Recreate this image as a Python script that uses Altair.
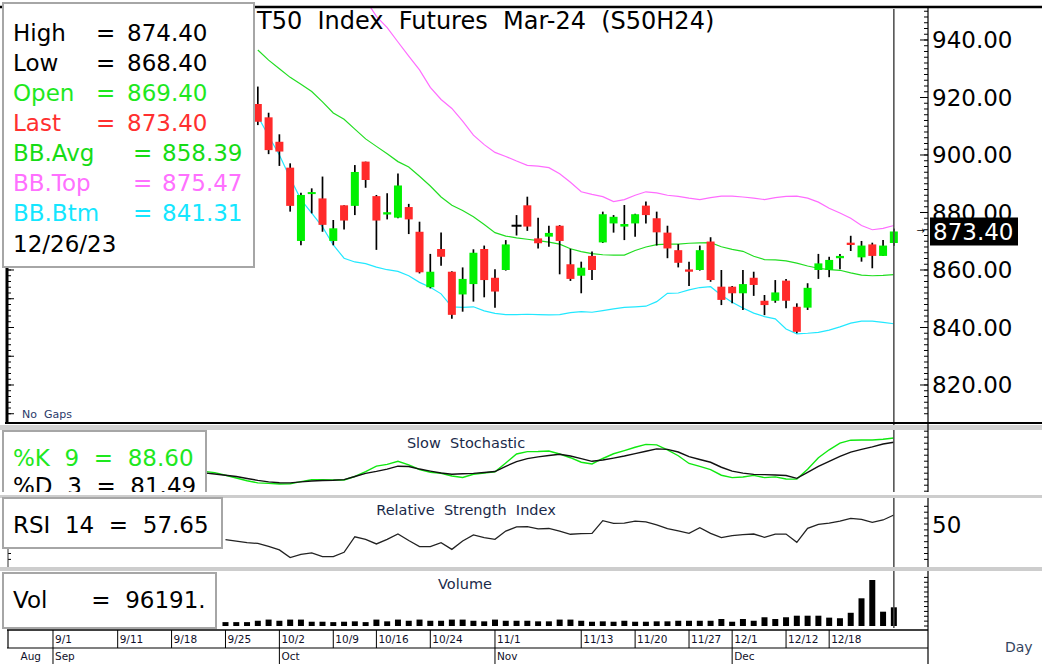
import altair as alt
import pandas as pd

FONT = "DejaVu Sans"
NB = "\u00a0"

# ---------------- data (bar index 0 = 9/1/2023, trading days) ----------------
bar_idx = list(range(19, 79))
opens = [917.7, 913.1, 904.6, 895.6, 870.1, 886.4, 884.9, 870.1, 882.5, 882.3,
         897.7, 885.7, 879.3, 878.2, 881.9, 873.3, 854.0, 867.3, 859.4, 851.5,
         855.1, 867.3, 857.3, 860.0, 875.4, 882.5, 871.0, 871.6, 875.4, 862.0,
         858.0, 864.9, 869.6, 876.2, 875.1, 876.2, 882.4, 878.0, 873.0, 866.9,
         860.2, 860.0, 869.9, 854.2, 854.2, 851.9, 857.3, 849.3, 849.3, 856.3,
         847.2, 846.9, 860.0, 860.0, 864.1, 869.5, 864.4, 868.9, 864.9, 869.4]
highs = [923.8, 914.7, 907.2, 897.1, 886.9, 888.4, 892.5, 877.4, 882.5, 896.5,
         897.7, 886.1, 886.7, 893.6, 883.0, 876.8, 865.6, 873.0, 859.6, 860.9,
         867.2, 868.5, 860.3, 870.4, 879.1, 885.5, 878.2, 875.4, 875.6, 867.4,
         862.9, 866.4, 880.3, 879.1, 882.6, 879.6, 883.8, 880.3, 875.4, 869.0,
         862.9, 868.5, 871.4, 860.0, 854.4, 860.0, 859.4, 851.3, 856.5, 856.9,
         848.4, 855.4, 865.6, 864.6, 865.6, 871.9, 870.1, 869.5, 870.4, 874.4]
lows = [910.4, 900.3, 896.2, 880.3, 868.6, 879.7, 873.3, 868.6, 874.1, 879.1,
        888.6, 867.0, 877.6, 878.0, 872.5, 858.8, 853.6, 861.5, 843.0, 845.5,
        849.0, 850.5, 846.9, 859.8, 872.0, 873.6, 867.5, 868.1, 858.5, 856.2,
        851.9, 856.5, 869.4, 873.0, 870.4, 871.6, 876.2, 868.5, 864.1, 860.9,
        854.4, 859.8, 855.9, 847.8, 848.4, 846.1, 851.0, 844.3, 848.6, 846.7,
        838.0, 846.1, 856.9, 857.5, 860.3, 866.6, 862.9, 860.6, 864.9, 868.4]
closes = [911.6, 901.7, 901.2, 882.3, 886.1, 887.1, 875.7, 874.5, 877.2, 894.1,
          891.3, 877.2, 880.1, 889.4, 877.6, 859.2, 859.4, 864.6, 844.4, 856.9,
          866.0, 856.5, 852.5, 868.9, 875.4, 875.1, 869.3, 872.9, 870.1, 856.9,
          860.8, 860.0, 879.4, 878.5, 876.0, 879.4, 879.1, 873.1, 867.5, 862.5,
          859.4, 866.9, 856.5, 849.6, 851.9, 855.1, 854.8, 847.8, 852.2, 849.3,
          838.5, 853.8, 862.3, 863.5, 864.9, 868.7, 868.5, 864.9, 868.5, 873.4]

bb_top_idx = list(range(29, 79))
bb_top = [954.0, 948.2, 944.3, 939.3, 934.4, 929.6, 923.5, 919.3, 916.2, 911.8,
          906.9, 903.6, 900.9, 899.5, 897.9, 896.4, 896.1, 895.6, 893.5, 890.5,
          887.2, 886.3, 885.5, 883.8, 884.5, 886.0, 887.2, 886.8, 886.0, 885.6,
          885.0, 884.5, 885.2, 885.7, 885.7, 885.4, 885.0, 884.5, 885.2, 885.6,
          885.7, 885.0, 883.6, 881.5, 879.8, 878.0, 875.5, 874.0, 874.5, 875.47]
bb_idx = list(range(19, 79))
bb_avg = [936.5, 933.0, 930.0, 927.0, 924.6, 922.1, 918.5, 914.6, 912.4, 909.0,
          905.6, 903.0, 900.4, 897.7, 895.8, 892.6, 889.2, 885.4, 882.5, 880.7,
          878.5, 875.8, 873.0, 871.8, 871.2, 870.7, 870.2, 869.7, 869.0, 867.4,
          866.4, 865.7, 865.3, 865.2, 865.2, 866.8, 868.0, 868.8, 869.0, 869.0,
          869.3, 869.4, 869.5, 868.1, 867.2, 866.5, 864.8, 863.6, 863.5, 863.2,
          862.4, 861.4, 860.6, 860.1, 859.9, 859.0, 858.2, 858.0, 858.1, 858.39]
bb_btm = [913.5, 906.6, 900.0, 892.0, 884.5, 879.8, 875.0, 868.7, 864.1, 862.8,
          862.2, 861.0, 860.1, 859.5, 858.0, 855.7, 854.0, 851.7, 847.2, 847.0,
          847.2, 845.8, 844.9, 844.5, 844.5, 844.6, 844.5, 844.4, 844.5, 845.2,
          845.5, 845.3, 845.9, 846.5, 847.0, 847.2, 847.4, 849.0, 851.9, 852.0,
          853.1, 853.9, 854.2, 851.2, 848.8, 846.8, 845.0, 843.8, 843.0, 839.5,
          837.8, 838.0, 838.3, 839.1, 840.2, 841.5, 842.2, 842.2, 841.8, 841.31]

stoch_idx = list(range(14, 79))
stoch_k = [33, 31, 26.5, 22, 17.5, 13.8, 13.1, 12, 12.5, 15.9,
           19, 19.2, 18.7, 18.7, 24.5, 32.6, 41.8, 44.7, 49.8, 43.8,
           36.2, 31.6, 30, 25.4, 22.9, 28.3, 30.3, 32.4, 47, 62,
           65.9, 66.1, 67, 62, 55.8, 48.3, 45.4, 54.5, 62.4, 67.7,
           73.2, 78, 77.2, 68.8, 59.1, 46.2, 41.3, 35.9, 26.6, 22.6,
           23.6, 26.3, 22.6, 23.8, 20.3, 20.2, 36.5, 55.7, 69, 80,
           85, 85.3, 85.3, 86.7, 88.6]
stoch_d = [30.5, 28.7, 26.6, 24.4, 21.2, 18.1, 15.5, 14.1, 13.8, 15.5,
           17.1, 17.9, 18.3, 19.3, 24.5, 29.8, 33, 36.8, 41.7, 41.1,
           36.9, 33.5, 30.3, 28.3, 29, 29.7, 31.1, 32.8, 41.5, 49.2,
           54.2, 57.3, 59.5, 61.6, 58.7, 54.4, 49.8, 51.9, 55.1, 58.6,
           62.7, 66.6, 70.6, 69.7, 65.3, 57.5, 52.8, 48.2, 39.9, 33.4,
           30.1, 28, 27.6, 27.1, 26.1, 21.4, 31.2, 41.5, 49.9, 58.1,
           65.2, 69.7, 73.8, 78.6, 81.49]

rsi_idx = list(range(16, 79))
rsi_vals = [36.8, 35.5, 34.2, 33.5, 31, 28, 21.5, 24.3, 25.5, 22.3,
            22.3, 26, 39.2, 37, 33.1, 37, 41.5, 36, 30.8, 30.8,
            34.2, 28.5, 35.6, 40.7, 38.5, 37, 44, 47.5, 47.7, 45.8,
            46.2, 44, 41.3, 41.8, 42.1, 52.8, 50.6, 50.8, 52.5, 51.8,
            49.2, 46, 44.1, 42.1, 46.9, 42.1, 38.4, 40.1, 41, 41.5,
            38.7, 41.5, 41.5, 34.5, 46.3, 49.7, 50.8, 52.5, 54.8, 54,
            51.4, 53.4, 57.65]

vol_idx = list(range(16, 79))
volumes = [20000, 20000, 20000, 27000, 33000, 27000, 33000, 33000, 22000, 22000,
           20000, 22000, 24000, 20000, 33000, 24000, 33000, 27000, 33000, 27000,
           27000, 33000, 33000, 27000, 24000, 33000, 27000, 27000, 27000, 24000,
           24000, 33000, 33000, 27000, 22000, 24000, 22000, 27000, 22000, 22000,
           24000, 24000, 27000, 27000, 27000, 27000, 36000, 22000, 36000, 27000,
           45000, 36000, 45000, 53000, 53000, 53000, 43000, 40000, 68000, 142500,
           236600, 73600, 96191]

price_labels = [820, 840, 860, 880, 900, 920, 940]
date_labels = ["9/1", "9/11", "9/18", "9/25", "10/2", "10/9", "10/16", "10/24",
               "11/1", "11/13", "11/20", "11/27", "12/1", "12/12", "12/18"]
date_pos = [0, 6, 11, 16, 21, 26, 30, 35, 41, 49, 54, 59, 63, 68, 72]
month_labels = ["Aug", "Sep", "Oct", "Nov", "Dec"]
month_pos = [-3.2, 0, 21, 41, 63]

info_labels = ["High", "Low", "Open", "Last", "BB.Avg", "BB.Top", "BB.Btm"]
info_values = [874.40, 868.40, 869.40, 873.40, 858.39, 875.47, 841.31]
info_colors = ["#000000", "#000000", "#1ee81e", "#ff3030", "#16dc16", "#ff70ff", "#14e6ff"]
last_date = "12/26/23"

# ---------------- scales ----------------
XS = alt.Scale(domain=[-4.174, 81.168], range=[8, 928], nice=False, zero=False, padding=0)
PY = alt.Scale(domain=[807.13, 951.13], range=[422, 8], nice=False, zero=False, padding=0)
SY = alt.Scale(domain=[0, 100], range=[491.2, 431.2], nice=False, zero=False, padding=0)
RY = alt.Scale(domain=[0, 100], range=[583, 465], nice=False, zero=False, padding=0)
VY = alt.Scale(domain=[0, 257200], range=[626, 576], nice=False, zero=False, padding=0)

GREEN = "#00f000"
RED = "#ff2a2a"
ONE = pd.DataFrame({"k": [0]})
X = alt.X("i:Q", scale=XS, axis=None)


def sp(s):
    return s.replace(" ", NB)


def hrule(y, x1, x2, color="black", w=1.0):
    return alt.Chart(ONE).mark_rule(color=color, strokeWidth=w).encode(
        x=alt.value(x1), x2=alt.value(x2), y=alt.value(y))


def vrule(x, y1, y2, color="black", w=1.0):
    return alt.Chart(ONE).mark_rule(color=color, strokeWidth=w).encode(
        x=alt.value(x), y=alt.value(y1), y2=alt.value(y2))


def box(x1, x2, y1, y2, fill="white", stroke=None, sw=0):
    kw = {"fill": fill}
    if stroke:
        kw.update(stroke=stroke, strokeWidth=sw)
    return alt.Chart(ONE).mark_rect(**kw).encode(
        x=alt.value(x1), x2=alt.value(x2), y=alt.value(y1), y2=alt.value(y2))


def label(txt, x, y, size, color="black", align="left"):
    return alt.Chart(ONE).mark_text(text=sp(txt), align=align, baseline="middle",
                                    font=FONT, fontSize=size, color=color).encode(
        x=alt.value(x), y=alt.value(y))


def line(idx, vals, scale, color, w):
    df = pd.DataFrame({"i": idx, "v": vals})
    return alt.Chart(df).mark_line(color=color, strokeWidth=w).encode(
        x=X, y=alt.Y("v:Q", scale=scale, axis=None))


def ticks(vals, scale, x1, x2, w=1.0):
    df = pd.DataFrame({"v": vals})
    return alt.Chart(df).mark_rule(color="black", strokeWidth=w).encode(
        x=alt.value(x1), x2=alt.value(x2), y=alt.Y("v:Q", scale=scale, axis=None))


layers = []

# axis ticks of the price panel (right and left)
layers.append(ticks(list(range(810, 951, 2)), PY, 924, 928))
layers.append(ticks(price_labels, PY, 920, 928))
layers.append(ticks(list(range(810, 951, 2)), PY, 8, 11))
layers.append(ticks(list(range(810, 951, 10)), PY, 8, 14))
# lower panels ticks
layers.append(ticks(list(range(0, 101, 10)), SY, 924, 928))
layers.append(ticks(list(range(20, 66, 5)), RY, 924, 928))
layers.append(ticks(list(range(0, 250001, 25000)), VY, 924, 928))
layers.append(ticks(list(range(20, 66, 5)), RY, 8, 11))

# Bollinger bands
layers.append(line(bb_top_idx, bb_top, PY, "#ff6cff", 1.2))
layers.append(line(bb_idx, bb_avg, PY, "#22dd22", 1.2))
layers.append(line(bb_idx, bb_btm, PY, "#22e8ff", 1.2))

# candles
cdf = pd.DataFrame({"i": bar_idx, "o": opens, "h": highs, "l": lows, "c": closes})
layers.append(alt.Chart(cdf).mark_rule(color="black", strokeWidth=1.7).encode(
    x=X, y=alt.Y("l:Q", scale=PY, axis=None), y2="h:Q"))
layers.append(alt.Chart(cdf).transform_filter("datum.c > datum.o").mark_bar(
    size=8, color=GREEN).encode(x=X, y=alt.Y("o:Q", scale=PY, axis=None), y2="c:Q"))
layers.append(alt.Chart(cdf).transform_filter("datum.c < datum.o").mark_bar(
    size=8, color=RED).encode(x=X, y=alt.Y("o:Q", scale=PY, axis=None), y2="c:Q"))
layers.append(alt.Chart(cdf).transform_filter("datum.c == datum.o").mark_tick(
    orient="horizontal", size=10, thickness=2, color="black", opacity=1).encode(
    x=X, y=alt.Y("o:Q", scale=PY, axis=None)))

# stochastic, RSI, volume
layers.append(line(stoch_idx, stoch_k, SY, "#10e810", 1.4))
layers.append(line(stoch_idx, stoch_d, SY, "#111111", 1.4))
layers.append(line(rsi_idx, rsi_vals, RY, "#222222", 1.3))
vdf = pd.DataFrame({"i": vol_idx, "v": volumes})
layers.append(alt.Chart(vdf).mark_bar(size=6, color="black").encode(
    x=X, y=alt.Y("v:Q", scale=VY, axis=None), y2=alt.datum(0)))

# current bar line
cur = pd.DataFrame({"i": [bar_idx[-1]]})
layers.append(alt.Chart(cur).mark_rule(color="#4a4a4a", strokeWidth=1.5).encode(
    x=X, y=alt.value(9), y2=alt.value(628)))

# panel frames / separators
layers.append(box(0, 1042, 0, 6, fill="white"))
layers.append(hrule(7, 0, 1042, "black", 2.5))
layers.append(vrule(7, 7, 424, "black", 3))
layers.append(hrule(423, 5, 1042, "black", 2))
layers.append(box(0, 1042, 425, 430, fill="#d2d2d2"))
layers.append(vrule(8, 498, 567, "#333333", 1))
layers.append(hrule(630, 7, 928, "black", 1.5))
layers.append(hrule(648, 7, 928, "black", 1.2))
layers.append(vrule(928, 7, 664, "black", 1.2))
layers.append(vrule(8, 630, 648, "black", 1.2))

# panel titles
layers.append(label("No  Gaps", 22, 415, 11, "#2a3a6a"))
layers.append(label("Slow  Stochastic", 466, 444, 14.5, "#1a2a4a", "center"))
layers.append(label("Relative  Strength  Index", 466, 511, 14.5, "#1a2a4a", "center"))
layers.append(label("Volume", 465, 585, 14.5, "#1a2a4a", "center"))

# info box
layers.append(box(3, 254, 3, 267, "white", "#a6a6a6", 2))
idf = pd.DataFrame({"row": list(range(len(info_labels))), "lab": info_labels, "val": info_values})
ROWY = alt.Y("row:O", scale=alt.Scale(domain=list(range(8)), range=[33.5, 244.5], padding=0), axis=None)
COL = alt.Color("lab:N", scale=alt.Scale(domain=info_labels, range=info_colors), legend=None)
TXT = dict(align="left", baseline="middle", font=FONT, fontSize=23)
layers.append(alt.Chart(idf).mark_text(**TXT).encode(x=alt.value(13), y=ROWY, text="lab:N", color=COL))
layers.append(alt.Chart(idf).transform_filter("datum.row < 4").mark_text(text="=", **TXT).encode(
    x=alt.value(96), y=ROWY, color=COL))
layers.append(alt.Chart(idf).transform_filter("datum.row >= 4").mark_text(text="=", **TXT).encode(
    x=alt.value(133), y=ROWY, color=COL))
layers.append(alt.Chart(idf).transform_filter("datum.row < 4").mark_text(**TXT).encode(
    x=alt.value(127), y=ROWY, text=alt.Text("val:Q", format=".2f"), color=COL))
layers.append(alt.Chart(idf).transform_filter("datum.row >= 4").mark_text(**TXT).encode(
    x=alt.value(162), y=ROWY, text=alt.Text("val:Q", format=".2f"), color=COL))
layers.append(label(last_date, 13, 244.5, 23))

# indicator boxes
layers.append(box(3, 206, 431, 500, "white", "#a6a6a6", 2))
layers.append(label("%K  9  =  88.60", 13, 458.5, 23, "#1ee81e"))
layers.append(label("%D  3  =  81.49", 13, 487, 23, "black"))
layers.append(box(0, 1042, 492, 495, fill="white"))
layers.append(box(0, 1042, 495, 498, fill="#cdcdcd"))
layers.append(box(0, 1042, 567, 571, fill="#cdcdcd"))
layers.append(box(3, 222, 498, 548, "white", "#a6a6a6", 2))
layers.append(label("RSI  14  =  57.65", 13, 525.5, 23))
layers.append(box(3, 216, 573, 628, "white", "#a6a6a6", 2))
layers.append(label("Vol      =  96191.", 13, 600.5, 23))

# chart title
layers.append(label("T50  Index  Futures  Mar-24  (S50H24)", 257, 22, 24))

# right price axis labels and last-price tag
pdf = pd.DataFrame({"v": price_labels})
layers.append(alt.Chart(pdf).mark_text(align="left", baseline="middle", font=FONT, fontSize=23,
                                       dy=1.5, color="black").encode(
    x=alt.value(932), y=alt.Y("v:Q", scale=PY, axis=None), text=alt.Text("v:Q", format=".2f")))
last_df = pd.DataFrame({"v": [closes[-1]]})
layers.append(alt.Chart(last_df).mark_tick(orient="horizontal", size=88, thickness=28,
                                           color="black", opacity=1).encode(
    x=alt.value(974), y=alt.Y("v:Q", scale=PY, axis=None)))
layers.append(alt.Chart(last_df).mark_text(align="left", baseline="middle", font=FONT, fontSize=23,
                                           dy=1.5, color="white").encode(
    x=alt.value(933), y=alt.Y("v:Q", scale=PY, axis=None), text=alt.Text("v:Q", format=".2f")))
layers.append(alt.Chart(last_df).mark_text(text="\u2192", align="right", baseline="middle",
                                           font=FONT, fontSize=10, color="black").encode(
    x=alt.value(925), y=alt.Y("v:Q", scale=PY, axis=None)))
rdf = pd.DataFrame({"v": [50]})
layers.append(alt.Chart(rdf).mark_text(align="left", baseline="middle", font=FONT, fontSize=23,
                                       dy=1.5, color="black").encode(
    x=alt.value(932), y=alt.Y("v:Q", scale=RY, axis=None), text=alt.Text("v:Q", format="d")))
layers.append(label("Day", 1005, 648, 14, "#34445e"))

# date axis
ddf = pd.DataFrame({"p": date_pos, "lab": date_labels})
DX = alt.X("p:Q", scale=XS, axis=None)
layers.append(alt.Chart(ddf).mark_rule(color="black", strokeWidth=1).encode(
    x=DX, y=alt.value(630), y2=alt.value(648)))
layers.append(alt.Chart(ddf).mark_text(align="left", baseline="middle", dx=2, font=FONT,
                                       fontSize=10.5, color="#10102a").encode(
    x=DX, y=alt.value(640), text="lab:N"))
mdf = pd.DataFrame({"p": month_pos, "lab": month_labels})
layers.append(alt.Chart(mdf).transform_filter("datum.p >= 0").mark_rule(
    color="black", strokeWidth=1).encode(x=DX, y=alt.value(648), y2=alt.value(664)))
layers.append(alt.Chart(mdf).mark_text(align="left", baseline="middle", dx=2, font=FONT,
                                       fontSize=10.5, color="#10102a").encode(
    x=DX, y=alt.value(657), text="lab:N"))

chart = alt.layer(*layers).resolve_scale(y="independent", color="independent").properties(
    width=1042, height=664, padding=0, background="white",
    autosize=alt.AutoSizeParams(type="none"),
).configure_view(stroke=None)

chart.save("out.html", embed_options={"renderer": "svg", "actions": False})
